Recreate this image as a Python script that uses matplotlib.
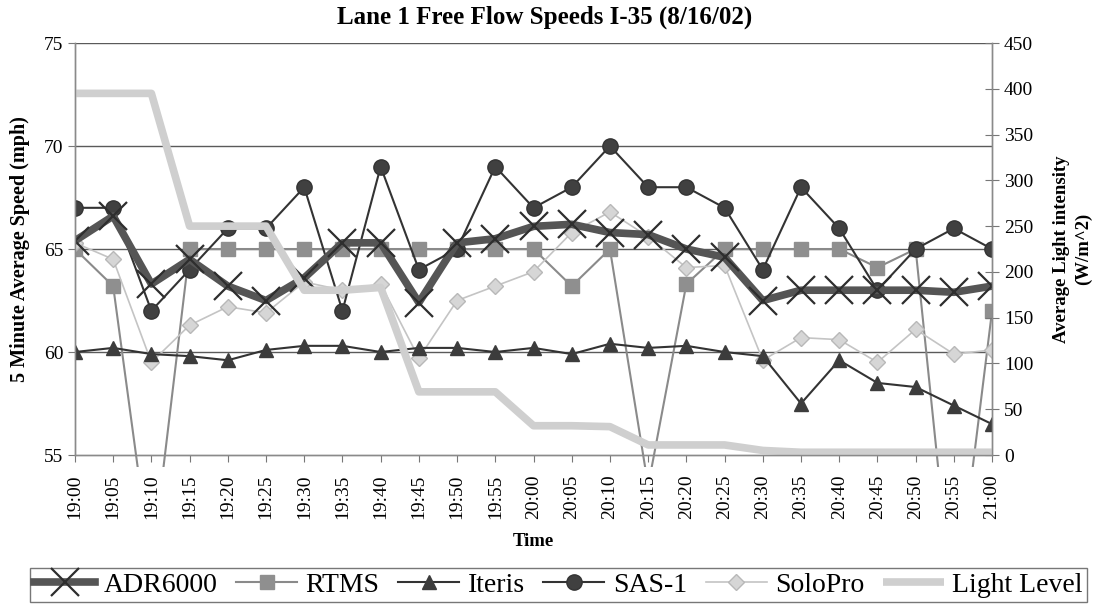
import numpy as np
import matplotlib
matplotlib.use("Agg")
import matplotlib.pyplot as plt
from matplotlib.patches import Rectangle

plt.rcParams['font.family'] = ['Liberation Serif', 'DejaVu Serif']

# time labels (5 minute steps)
times = ['19:00', '19:05', '19:10', '19:15', '19:20', '19:25', '19:30', '19:35',
         '19:40', '19:45', '19:50', '19:55', '20:00', '20:05', '20:10', '20:15',
         '20:20', '20:25', '20:30', '20:35', '20:40', '20:45', '20:50', '20:55',
         '21:00']

# speeds in mph
adr6000 = [65.4, 66.6, 63.3, 64.5, 63.2, 62.5, 63.6, 65.3, 65.3, 62.4, 65.3, 65.5,
           66.1, 66.2, 65.8, 65.7, 65.0, 64.6, 62.5, 63.0, 63.0, 63.0, 63.0, 62.9,
           63.2]
rtms = [65.0, 63.2, 49.5, 65.0, 65.0, 65.0, 65.0, 65.0, 65.0, 65.0, 65.0, 65.0,
        65.0, 63.2, 65.0, 53.5, 63.3, 65.0, 65.0, 65.0, 65.0, 64.1, 65.0, 47.0,
        62.0]
iteris = [60.0, 60.2, 59.9, 59.8, 59.6, 60.1, 60.3, 60.3, 60.0, 60.2, 60.2, 60.0,
          60.2, 59.9, 60.4, 60.2, 60.3, 60.0, 59.8, 57.5, 59.6, 58.5, 58.3, 57.4,
          56.5]
sas1 = [67.0, 67.0, 62.0, 64.0, 66.0, 66.0, 68.0, 62.0, 69.0, 64.0, 65.0, 69.0,
        67.0, 68.0, 70.0, 68.0, 68.0, 67.0, 64.0, 68.0, 66.0, 63.0, 65.0, 66.0,
        65.0]
solopro = [65.3, 64.5, 59.5, 61.3, 62.2, 61.9, 63.4, 63.0, 63.3, 59.7, 62.5, 63.2,
           63.9, 65.8, 66.8, 65.6, 64.1, 64.2, 59.6, 60.7, 60.6, 59.5, 61.1, 59.9,
           60.1]

# light level in W/m^2 (right axis)
light = [395, 395, 395, 250, 250, 250, 180, 180, 183, 69, 69, 69, 32, 32, 31, 11,
         11, 11, 5, 3, 3, 3, 3, 3, 3]

x = np.arange(len(times))

fig = plt.figure(figsize=(10.99, 6.05), dpi=100)
ax = fig.add_axes([0.0682, 0.2479, 0.8345, 0.681])
ax2 = ax.twinx()

# Excel lets lines run a little past the bottom of the plot area
def clip_rect(a):
    return Rectangle((0, -0.03), 1, 1.03, transform=a.transAxes,
                     facecolor='none', edgecolor='none')

lines = []
lines.append(ax.plot(x, adr6000, color='#555555', lw=5.5, marker='x', ms=20,
                     mew=1.6, mec='#2e2e2e', label='ADR6000', zorder=5)[0])
lines.append(ax.plot(x, rtms, color='#8a8a8a', lw=1.5, marker='s', ms=10,
                     mfc='#8f8f8f', mec='#8f8f8f', label='RTMS', zorder=3)[0])
lines.append(ax.plot(x, iteris, color='#333333', lw=1.5, marker='^', ms=10,
                     mfc='#3c3c3c', mec='#3c3c3c', label='Iteris', zorder=4)[0])
lines.append(ax.plot(x, sas1, color='#333333', lw=1.5, marker='o', ms=11,
                     mfc='#404040', mec='#333333', label='SAS-1', zorder=4)[0])
lines.append(ax.plot(x, solopro, color='#c4c4c4', lw=1.2, marker='D', ms=8,
                     mfc='#d6d6d6', mec='#b8b8b8', label='SoloPro', zorder=3)[0])
lines.append(ax2.plot(x, light, color='#cfcfcf', lw=5.5, solid_capstyle='butt',
                      label='Light Level')[0])
for ln in lines[:-1]:
    ln.set_clip_path(clip_rect(ax))
lines[-1].set_clip_path(clip_rect(ax2))

ax.set_xlim(0, len(times) - 1)
ax.set_ylim(55, 75)
ax.set_yticks([55, 60, 65, 70, 75])
ax2.set_ylim(0, 450)
ax2.set_yticks(np.arange(0, 451, 50))

ax.set_xticks(x)
ax.set_xticklabels(times, rotation=90, fontsize=14)
ax.tick_params(axis='y', labelsize=14, length=5, color='#777777', direction='out')
ax.tick_params(axis='x', length=5, color='#777777', direction='out', pad=9)
ax2.tick_params(axis='y', labelsize=14, length=10, color='#777777', direction='inout')

for v in [60, 65, 70, 75]:
    ax.axhline(v, color='#5a5a5a', lw=1.0, zorder=1)

for a in (ax, ax2):
    a.spines['top'].set_visible(False)
    for s in ('left', 'right', 'bottom'):
        a.spines[s].set_color('#8a8a8a')
        a.spines[s].set_linewidth(1.0)
ax.patch.set_visible(False)

ax.set_ylabel('5 Minute Average Speed (mph)', fontsize=14.5, fontweight='bold', labelpad=10)
ax2.set_ylabel('Average Light intensity\n(W/m^2)', fontsize=13.5, fontweight='bold',
               labelpad=14, linespacing=1.35)
ax.set_xlabel('Time', fontsize=13.5, fontweight='bold', labelpad=10)
fig.suptitle('Lane 1 Free Flow Speeds I-35 (8/16/02)', fontsize=18, fontweight='bold',
             x=0.496, y=0.99)

leg = fig.legend(handles=lines, loc='lower left', ncol=6, mode='expand',
                 bbox_to_anchor=(30 / 1099, 3 / 605, 1057 / 1099, 42 / 605),
                 fontsize=20, frameon=True, fancybox=False, handlelength=2.2,
                 handletextpad=0.3, columnspacing=0.6, borderaxespad=0,
                 borderpad=0.15)
leg.get_frame().set_edgecolor('#555555')
leg.get_frame().set_linewidth(1.0)

fig.savefig('out.png', dpi=100)
